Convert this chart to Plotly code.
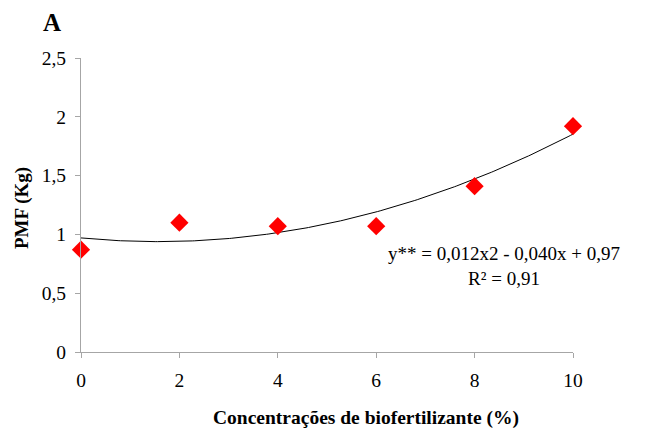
import numpy as np
import plotly.graph_objects as go

conc = [0, 2, 4, 6, 8, 10]
pmf = [0.87, 1.10, 1.07, 1.07, 1.41, 1.92]
y_ticks = [0, 0.5, 1, 1.5, 2, 2.5]
x_ticks = [0, 2, 4, 6, 8, 10]
equation = "y** = 0,012x2 - 0,040x + 0,97<br>R² = 0,91"

coef = np.polyfit(conc, pmf, 2)
xs = np.linspace(min(conc), max(conc), 200)
ys = np.polyval(coef, xs)

serif = "Liberation Serif"

# page has 8px body margin; plot area in page px: x 81..573, y 58..352
PX0, PX1, PY0, PY1 = 81, 573, 58, 352
def px(x):
    return (x - PX0) / (PX1 - PX0)
def py(y):
    return (PY1 - y) / (PY1 - PY0)

fig = go.Figure()
fig.add_trace(go.Scatter(x=xs, y=ys, mode="lines",
                         line=dict(color="black", width=1), hoverinfo="skip",
                         showlegend=False))
fig.add_trace(go.Scatter(x=conc, y=pmf, mode="markers",
                         marker=dict(symbol="diamond", color="#ff0000", size=14),
                         showlegend=False, cliponaxis=False))

fig.update_layout(
    width=645, height=420,
    margin=dict(l=PX0 - 8, r=645 - (PX1 - 8), t=PY0 - 8, b=420 - (PY1 - 8)),
    paper_bgcolor="white", plot_bgcolor="white",
    separators=",.",
    font=dict(family=serif, size=19, color="black"),
    xaxis=dict(range=[0, 10], tickvals=x_ticks, showgrid=False, zeroline=False,
               showline=True, linecolor="#a6a6a6", linewidth=1,
               ticks="outside", ticklen=5, tickcolor="#a6a6a6",
               tickfont=dict(size=19.5, family=serif), ticklabelstandoff=6),
    yaxis=dict(range=[0, 2.5], tickvals=y_ticks, showgrid=False, zeroline=False,
               showline=True, linecolor="#a6a6a6", linewidth=1,
               ticks="outside", ticklen=5, tickcolor="#a6a6a6",
               tickfont=dict(size=19.5, family=serif), ticklabelstandoff=5),
    annotations=[
        dict(text="<b>A</b>", xref="paper", yref="paper", x=px(52), y=py(22),
             xanchor="center", yanchor="middle", showarrow=False,
             font=dict(size=25, family=serif)),
        dict(text="<b>PMF (Kg)</b>", xref="paper", yref="paper", x=px(22), y=py(208),
             textangle=-90, xanchor="center", yanchor="middle", showarrow=False,
             font=dict(size=19, family=serif)),
        dict(text="<b>Concentrações de biofertilizante (%)</b>", xref="paper", yref="paper",
             x=px(366), y=py(418), xanchor="center", yanchor="middle",
             showarrow=False, font=dict(size=19.5, family=serif)),
        dict(text=equation, xref="paper", yref="paper",
             x=px(504), y=py(266), xanchor="center", yanchor="middle",
             showarrow=False, align="center", font=dict(size=19, family=serif)),
    ],
)

fig.write_html("out.html")
